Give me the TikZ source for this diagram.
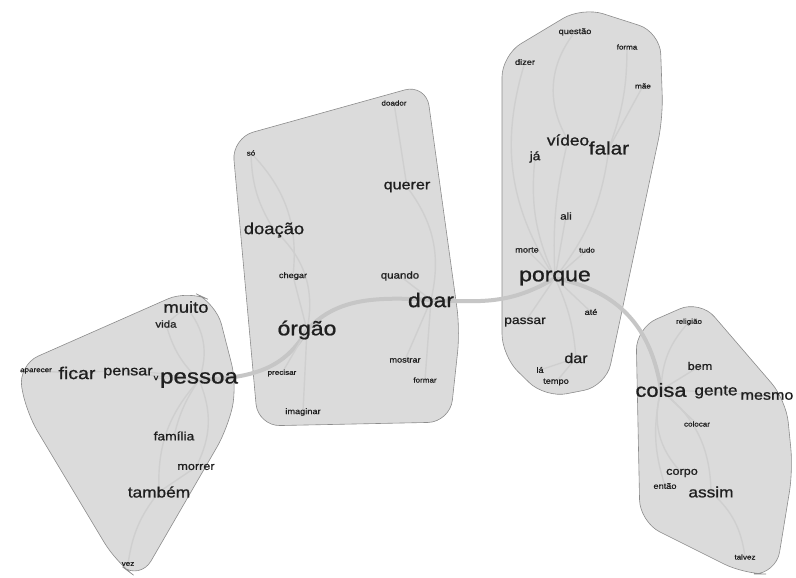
\documentclass[tikz,border=0pt]{standalone}
\usepackage{fontspec}
\setmainfont{Liberation Sans}[FakeStretch=1.15,FakeBold=0.9]
\pgfdeclarelayer{bg}
\pgfdeclarelayer{mid}
\pgfsetlayers{bg,mid,main}
\begin{document}
\begin{tikzpicture}[x=1pt,y=1pt,
  w/.style={inner sep=0.5pt, text=black!88},
  fs/.style={font=\fontsize{#1}{#1}\selectfont},
  hull/.style={fill=gray!28, draw=gray!90, line width=0.6pt, rounded corners=22pt},
  big/.style={draw=gray!45, line width=4pt},
  ed/.style={draw=gray!38, line width=1.4pt}]
\useasboundingbox (0,0) rectangle (796,-578);
\begin{pgfonlayer}{bg}
\fill[white] (0,0) rectangle (796,-578);
% hulls
\draw[hull] (18,-365) -- (188,-290) -- (216,-303) -- (237,-385) -- (228,-428) -- (140,-580) -- (116,-562) -- (26,-412) -- cycle;
\draw[hull] (232,-138) -- (426,-84) -- (460,-330) -- (450,-422) -- (258,-426) -- cycle;
\draw[hull] (502,-55) -- (582,-7) -- (660,-32) -- (663,-118) -- (606,-386) -- (545,-398) -- (502,-356) -- cycle;
\draw[hull] (636,-328) -- (700,-300) -- (786,-400) -- (793,-470) -- (776,-574) -- (744,-574) -- (640,-522) -- cycle;
\end{pgfonlayer}
% cluster 1
\node[w,fs=16] (muito) at (186,-307) {muito};
\node[w,fs=10] (vida) at (166,-324) {vida};
\node[w,fs=7] (aparecer) at (36,-371) {aparecer};
\node[w,fs=17] (ficar) at (77,-373) {ficar};
\node[w,fs=14] (pensar) at (128,-373) {pensar};
\node[w,fs=8] (v) at (156,-378) {v};
\node[w,fs=21] (pessoa) at (199,-380) {pessoa};
\node[w,fs=12] (familia) at (174,-436) {família};
\node[w,fs=11] (morrer) at (196,-467) {morrer};
\node[w,fs=15] (tambem) at (159,-492) {também};
\node[w,fs=7] (vez) at (128,-564) {vez};
% cluster 2
\node[w,fs=7] (doador) at (394,-103) {doador};
\node[w,fs=7] (so) at (251,-153) {só};
\node[w,fs=14] (querer) at (407,-187) {querer};
\node[w,fs=16] (doacao) at (274,-230) {doação};
\node[w,fs=8] (chegar) at (293,-276) {chegar};
\node[w,fs=10] (quando) at (400,-276) {quando};
\node[w,fs=20] (doar) at (431,-300) {doar};
\node[w,fs=20] (orgao) at (307,-330) {órgão};
\node[w,fs=8] (mostrar) at (405,-360) {mostrar};
\node[w,fs=7] (precisar) at (282,-373) {precisar};
\node[w,fs=7] (formar) at (425,-380) {formar};
\node[w,fs=8] (imaginar) at (303,-412) {imaginar};
% cluster 3
\node[w,fs=8] (questao) at (575,-32) {questão};
\node[w,fs=7] (forma) at (627,-47) {forma};
\node[w,fs=8] (dizer) at (525,-62) {dizer};
\node[w,fs=7] (mae) at (643,-86) {mãe};
\node[w,fs=15] (video) at (568,-140) {vídeo};
\node[w,fs=18] (falar) at (609,-148) {falar};
\node[w,fs=12] (ja) at (535,-157) {já};
\node[w,fs=10] (ali) at (566,-216) {ali};
\node[w,fs=8] (morte) at (527,-250) {morte};
\node[w,fs=7] (tudo) at (587,-250) {tudo};
\node[w,fs=20] (porque) at (555,-278) {porque};
\node[w,fs=8] (ate) at (591,-312) {até};
\node[w,fs=12] (passar) at (525,-322) {passar};
\node[w,fs=14] (dar) at (576,-358) {dar};
\node[w,fs=8] (la) at (540,-370) {lá};
\node[w,fs=8] (tempo) at (556,-382) {tempo};
% cluster 4
\node[w,fs=7] (religiao) at (689,-322) {religião};
\node[w,fs=11] (bem) at (700,-366) {bem};
\node[w,fs=19] (coisa) at (661,-390) {coisa};
\node[w,fs=15] (gente) at (716,-392) {gente};
\node[w,fs=14] (mesmo) at (767,-396) {mesmo};
\node[w,fs=7] (colocar) at (697,-424) {colocar};
\node[w,fs=11] (corpo) at (682,-473) {corpo};
\node[w,fs=8] (entao) at (665,-486) {então};
\node[w,fs=15] (assim) at (711,-492) {assim};
\node[w,fs=7] (talvez) at (745,-557) {talvez};
\begin{pgfonlayer}{mid}
% inter-cluster
\draw[big] (pessoa.center) .. controls (255,-378) and (285,-368) .. (orgao.center);
\draw[big] (orgao.center) .. controls (335,-300) and (370,-296) .. (doar.center);
\draw[big] (doar.center) .. controls (480,-302) and (510,-305) .. (porque.center);
\draw[big] (porque.center) .. controls (612,-290) and (650,-320) .. (coisa.center);
% cluster 1
\draw[ed] (pessoa.center) to[bend right=30] (muito.center);
\draw[ed] (muito.center) -- (vida.center);
\draw[ed] (vida.center) to[bend right=15] (pessoa.center);
\draw[ed] (ficar.center) to[bend left=8] (pessoa.center);
\draw[ed] (aparecer.center) -- (ficar.center);
\draw[ed] (pensar.center) -- (pessoa.center);
\draw[ed] (v.center) -- (pessoa.center);
\draw[ed] (pessoa.center) to[bend right=10] (familia.center);
\draw[ed] (pessoa.center) to[bend left=25] (morrer.center);
\draw[ed] (pessoa.center) to[bend right=22] (tambem.center);
\draw[ed] (morrer.center) -- (tambem.center);
\draw[ed] (tambem.center) to[bend right=15] (vez.center);
% cluster 2
\draw[ed] (orgao.center) to[bend right=30] (doacao.center);
\draw[ed] (doacao.center) to[bend left=15] (so.center);
\draw[ed] (so.center) to[bend left=25] (chegar.center);
\draw[ed] (orgao.center) -- (chegar.center);
\draw[ed] (orgao.center) -- (precisar.center);
\draw[ed] (orgao.center) -- (imaginar.center);
\draw[ed] (doar.center) to[bend right=25] (querer.center);
\draw[ed] (querer.center) -- (doador.center);
\draw[ed] (doar.center) -- (quando.center);
\draw[ed] (doar.center) -- (mostrar.center);
\draw[ed] (doar.center) -- (formar.center);
% cluster 3
\draw[ed] (porque.center) to[bend left=15] (ja.center);
\draw[ed] (porque.center) to[bend left=8] (video.center);
\draw[ed] (video.center) to[bend left=35] (questao.center);
\draw[ed] (falar.center) to[bend right=10] (forma.center);
\draw[ed] (falar.center) -- (mae.center);
\draw[ed] (porque.center) to[bend right=15] (falar.center);
\draw[ed] (porque.center) to[bend left=25] (dizer.center);
\draw[ed] (porque.center) -- (ali.center);
\draw[ed] (porque.center) -- (morte.center);
\draw[ed] (porque.center) -- (tudo.center);
\draw[ed] (porque.center) -- (ate.center);
\draw[ed] (porque.center) -- (passar.center);
\draw[ed] (porque.center) to[bend left=10] (dar.center);
\draw[ed] (dar.center) -- (la.center);
\draw[ed] (dar.center) -- (tempo.center);
% cluster 4
\draw[ed] (coisa.center) to[bend left=20] (religiao.center);
\draw[ed] (coisa.center) -- (bem.center);
\draw[ed] (coisa.center) -- (gente.center);
\draw[ed] (gente.center) -- (mesmo.center);
\draw[ed] (coisa.center) -- (colocar.center);
\draw[ed] (coisa.center) to[bend right=30] (corpo.center);
\draw[ed] (coisa.center) to[bend right=15] (entao.center);
\draw[ed] (coisa.center) to[bend left=25] (assim.center);
\draw[ed] (assim.center) to[bend left=20] (talvez.center);
\end{pgfonlayer}
\end{tikzpicture}
\end{document}
